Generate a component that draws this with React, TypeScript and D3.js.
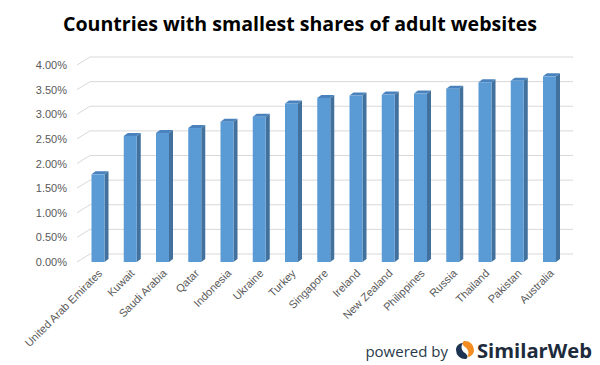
import React from 'react';
import * as d3 from 'd3';

const countries = [
  'United Arab Emirates', 'Kuwait', 'Saudi Arabia', 'Qatar', 'Indonesia', 'Ukraine', 'Turkey',
  'Singapore', 'Ireland', 'New Zealand', 'Philippines', 'Russia', 'Thailand', 'Pakistan', 'Australia'
];
const shares = [
  0.0178, 0.0256, 0.0262, 0.0272, 0.0285, 0.0295, 0.0322,
  0.0333, 0.0338, 0.0340, 0.0342, 0.0352, 0.0365, 0.0368, 0.0377
];
const yTicks = [0, 0.005, 0.01, 0.015, 0.02, 0.025, 0.03, 0.035, 0.04];

const WIDTH = 600;
const HEIGHT = 365;
const DEPTH_X = 13;
const DEPTH_Y = 8;
const BAR_W = 13;
const BAR_DX = 4;
const BAR_DY = 3;

export default function App() {
  const x = d3.scalePoint<string>().domain(countries).range([81.875, 565.625]).padding(0.5);
  const y = d3.scaleLinear().domain([0, 0.04]).range([262, 65]);
  const fmt = d3.format('.2%');
  const axisFont = '"Liberation Sans", Arial, sans-serif';
  const x0 = 77;
  const wallRight = 573;

  return (
    <svg width={WIDTH} height={HEIGHT} style={{ position: 'absolute', left: 0, top: 0, background: '#fff' }}>
      <text x={300} y={31} textAnchor="middle" fontFamily='"Open Sans", sans-serif' fontWeight="bold"
        fontSize={20} textLength={474} lengthAdjust="spacingAndGlyphs" fill="#000">
        Countries with smallest shares of adult websites
      </text>

      {/* gridlines: front slant + back wall */}
      <g stroke="#d9d9d9" strokeWidth={1} fill="none">
        {yTicks.map(t => (
          <polyline key={t}
            points={`${x0},${y(t)} ${x0 + DEPTH_X},${y(t) - DEPTH_Y} ${wallRight},${y(t) - DEPTH_Y}`} />
        ))}
      </g>

      <g fontFamily={axisFont} fontSize={11} fill="#595959">
        {yTicks.map(t => (
          <text key={t} x={67} y={y(t) + 4} textAnchor="end">{fmt(t)}</text>
        ))}
      </g>

      {/* 3d bars */}
      <g>
        {countries.map((c, i) => {
          const cx = x(c) as number;
          const top = y(shares[i]);
          const bottom = y(0);
          const l = cx - BAR_W / 2;
          const r = cx + BAR_W / 2;
          return (
            <g key={c}>
              <polygon fill="#41719c"
                points={`${r},${top} ${r + BAR_DX},${top - BAR_DY} ${r + BAR_DX},${bottom - BAR_DY} ${r},${bottom}`} />
              <polygon fill="#4a82bd"
                points={`${l},${top} ${l + BAR_DX},${top - BAR_DY} ${r + BAR_DX},${top - BAR_DY} ${r},${top}`} />
              <rect x={l} y={top} width={BAR_W} height={bottom - top} fill="#5b9bd5" />
            </g>
          );
        })}
      </g>

      <g fontFamily={axisFont} fontSize={11} fill="#595959">
        {countries.map(c => {
          const cx = (x(c) as number) + 5;
          return (
            <text key={c} x={cx} y={274} textAnchor="end" transform={`rotate(-45, ${cx}, 274)`}>{c}</text>
          );
        })}
      </g>

      {/* powered by SimilarWeb */}
      <text x={448} y={357} textAnchor="end" fontFamily='"Open Sans", sans-serif' fontSize={15} fill="#2b3a4a">
        powered by
      </text>
      <g transform="translate(465,350)">
        <path d="M -1,-9 A 9,9 0 0 1 9,0 C 9,4 6,7 2,7 C 5,3 3,-1 0,-3 C -3,-5 -3,-8 -1,-9 Z" fill="#f58c20" />
        <path d="M 1,9 A 9,9 0 0 1 -9,0 C -9,-4 -6,-7 -2,-7 C -5,-3 -3,1 0,3 C 3,5 3,8 1,9 Z" fill="#1d3553" />
      </g>
      <text x={477} y={358} fontFamily='"Open Sans", sans-serif' fontWeight="bold" fontSize={20}
        textLength={115} lengthAdjust="spacingAndGlyphs" fill="#1d2b3c">
        SimilarWeb
      </text>
    </svg>
  );
}
